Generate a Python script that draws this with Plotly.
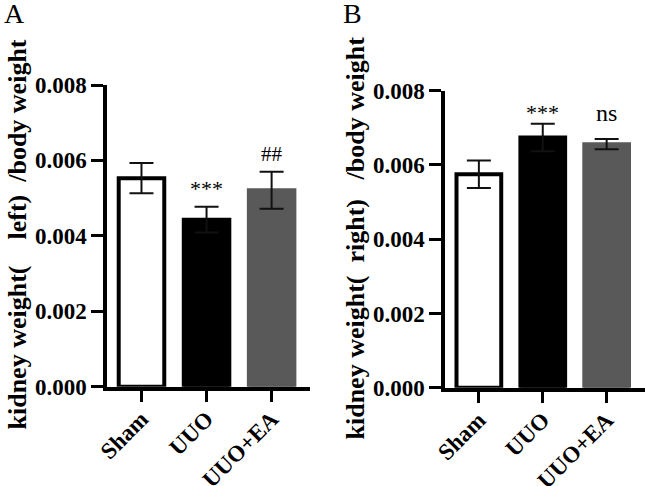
import plotly.graph_objects as go

categories = ["Sham", "UUO", "UUO+EA"]
left_mean = [0.00553, 0.00443, 0.00521]
left_sem = [0.00040, 0.00034, 0.00049]
right_mean = [0.00575, 0.00674, 0.00656]
right_sem = [0.00037, 0.00037, 0.00014]
left_marks = ["", "***", "##"]
right_marks = ["", "***", "ns"]
ytick_vals = [0.0, 0.002, 0.004, 0.006, 0.008]
ytick_text = ["0.000", "0.002", "0.004", "0.006", "0.008"]
NB = "\u00a0"
left_title = "kidney weight(" + NB * 4 + "left)" + NB * 2 + "/body weight"
right_title = "kidney weight(" + NB * 2 + "right)" + NB * 3 + "/body weight"

W, H = 645, 486
FONT = "Liberation Serif"
fill_colors = ["white", "black", "#595959"]
line_colors = ["black", "black", "#595959"]

fig = go.Figure()

def add_panel(means, sems, xa, ya):
    fig.add_trace(go.Bar(
        x=categories, y=means, xaxis=xa, yaxis=ya, width=0.7,
        marker=dict(color=fill_colors, line=dict(color=line_colors, width=4)),
        error_y=dict(type="data", array=sems, visible=True, color="#111111",
                     thickness=2, width=12),
        showlegend=False, hoverinfo="skip"))

add_panel(left_mean, left_sem, "x", "y")
add_panel(right_mean, right_sem, "x2", "y2")

def px_x(p):
    return p / W

def px_y(p):
    return 1 - p / H

axis_common = dict(showline=True, linewidth=3.5, linecolor="black", ticks="outside",
                   ticklen=12, tickwidth=3, tickcolor="black", showgrid=False,
                   zeroline=False, automargin=False,
                   tickfont=dict(family=FONT, size=23, color="black", weight="bold"))

fig.update_layout(
    width=W, height=H, margin=dict(l=0, r=0, t=0, b=0, autoexpand=False),
    plot_bgcolor="white", paper_bgcolor="white", bargap=0.3,
    xaxis=dict(domain=[px_x(107), px_x(310)], anchor="y", range=[-0.53, 2.59],
               tickangle=-45, ticklabelstandoff=-6, **axis_common),
    yaxis=dict(domain=[px_y(386.7), px_y(85)], anchor="x", range=[0, 0.008],
               tickvals=ytick_vals, ticktext=ytick_text, **axis_common),
    xaxis2=dict(domain=[px_x(445), px_x(645)], anchor="y2", range=[-0.53, 2.6],
                tickangle=-45, ticklabelstandoff=-6, **axis_common),
    yaxis2=dict(domain=[px_y(387.7), px_y(90.7)], anchor="x2", range=[0, 0.008],
                tickvals=ytick_vals, ticktext=ytick_text, **axis_common),
)

def add_marks(marks, means, sems, xref, yref, styles):
    for c, m, mu, s in zip(categories, marks, means, sems):
        if not m:
            continue
        size, shift = styles[m]
        fig.add_annotation(x=c, y=mu + s, xref=xref, yref=yref, text=m,
                           showarrow=False, yanchor="bottom", yshift=shift,
                           font=dict(family=FONT, size=size, color="black"))

add_marks(left_marks, left_mean, left_sem, "x", "y", {"***": (22, 4), "##": (21, 4)})
add_marks(right_marks, right_mean, right_sem, "x2", "y2", {"***": (22, -3), "ns": (24, 11)})

for title, xc, yc in [(left_title, 17, 234.5), (right_title, 355, 238.5)]:
    fig.add_annotation(x=px_x(xc), y=px_y(yc), xref="paper", yref="paper",
                       text=title, textangle=-90, showarrow=False,
                       xanchor="center", yanchor="middle",
                       font=dict(family=FONT, size=26, color="black", weight="bold"))

for lab, xc in [("A", 14), ("B", 352)]:
    fig.add_annotation(x=px_x(xc), y=px_y(14), xref="paper", yref="paper",
                       text=lab, showarrow=False, xanchor="center", yanchor="middle",
                       font=dict(family=FONT, size=28, color="black"))

fig.write_html("out.html", config={"displayModeBar": False},
               post_script="document.body.style.margin='0';")
